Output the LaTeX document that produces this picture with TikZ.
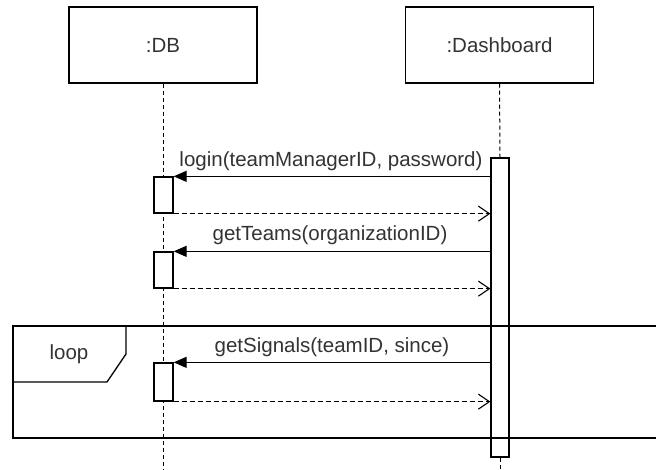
\documentclass[tikz,border=0pt]{standalone}
\usepackage{fontspec}
\setmainfont{Liberation Sans}
\usetikzlibrary{arrows.meta}
\begin{document}
\begin{tikzpicture}[x=1pt,y=-1pt,
  font=\fontsize{20.5}{24}\selectfont,
  lifebox/.style={draw, line width=1.5pt, minimum width=188pt, minimum height=76pt, inner sep=0pt, text=black!80},
  act/.style={draw, fill=white, line width=1.3pt, inner sep=0pt, minimum width=19pt},
  lifeline/.style={line width=1pt, dash pattern=on 4pt off 3pt},
  call/.style={line width=1.3pt, -{Triangle[length=13pt,width=11pt]}},
  reply/.style={line width=1.1pt, dash pattern=on 5pt off 3pt,
    -{Straight Barb[length=11pt,width=15pt,line width=1.1pt]}},
  lbl/.style={text=black!80, inner sep=0pt},
  frame/.style={line width=1.3pt}]
\useasboundingbox (0,0) rectangle (656,470);

% participants
\node[lifebox] (db) at (163,45) {:DB};
\node[lifebox] (dash) at (499.5,45) {:Dashboard};
\coordinate (dbend) at (163,470);
\coordinate (dashend) at (500,470);

% lifelines
\draw[lifeline] (db.south) -- (dbend);
\node[act, minimum width=18pt, minimum height=299pt] (dact) at (500,307.5) {};
\draw[lifeline] (dash.south) -- (dact.north);
\draw[lifeline] (dact.south) -- (dashend);

% activations on the DB lifeline
\node[act, minimum height=36pt] (a1) at (163.5,195) {};
\node[act, minimum height=36pt] (a2) at (163.5,270) {};
\node[act, minimum height=38pt] (a3) at (163.5,382) {};

% messages
\draw[call] (dact.west |- a1.north) -- (a1.north east);
\node[lbl] (l1) at (331,161) {login(teamManagerID, password)};
\draw[reply] (a1.south east) -- (dact.west |- a1.south);

\draw[call] (dact.west |- a2.north) -- (a2.north east);
\node[lbl] (l2) at (330,235) {getTeams(organizationID)};
\draw[reply] (a2.south east) -- (dact.west |- a2.south);

\draw[call] (dact.west |- a3.north) -- (a3.north east);
\node[lbl] (l3) at (332,347) {getSignals(teamID, since)};
\draw[reply] (a3.south east) -- (dact.west |- a3.south);

% loop fragment
\draw[frame] (13,326) rectangle (662,438);
\draw[frame] (13,382) -- (107,382) -- (126,354) -- (126,326);
\node[lbl] (looplbl) at (69,354) {loop};
\end{tikzpicture}
\end{document}
